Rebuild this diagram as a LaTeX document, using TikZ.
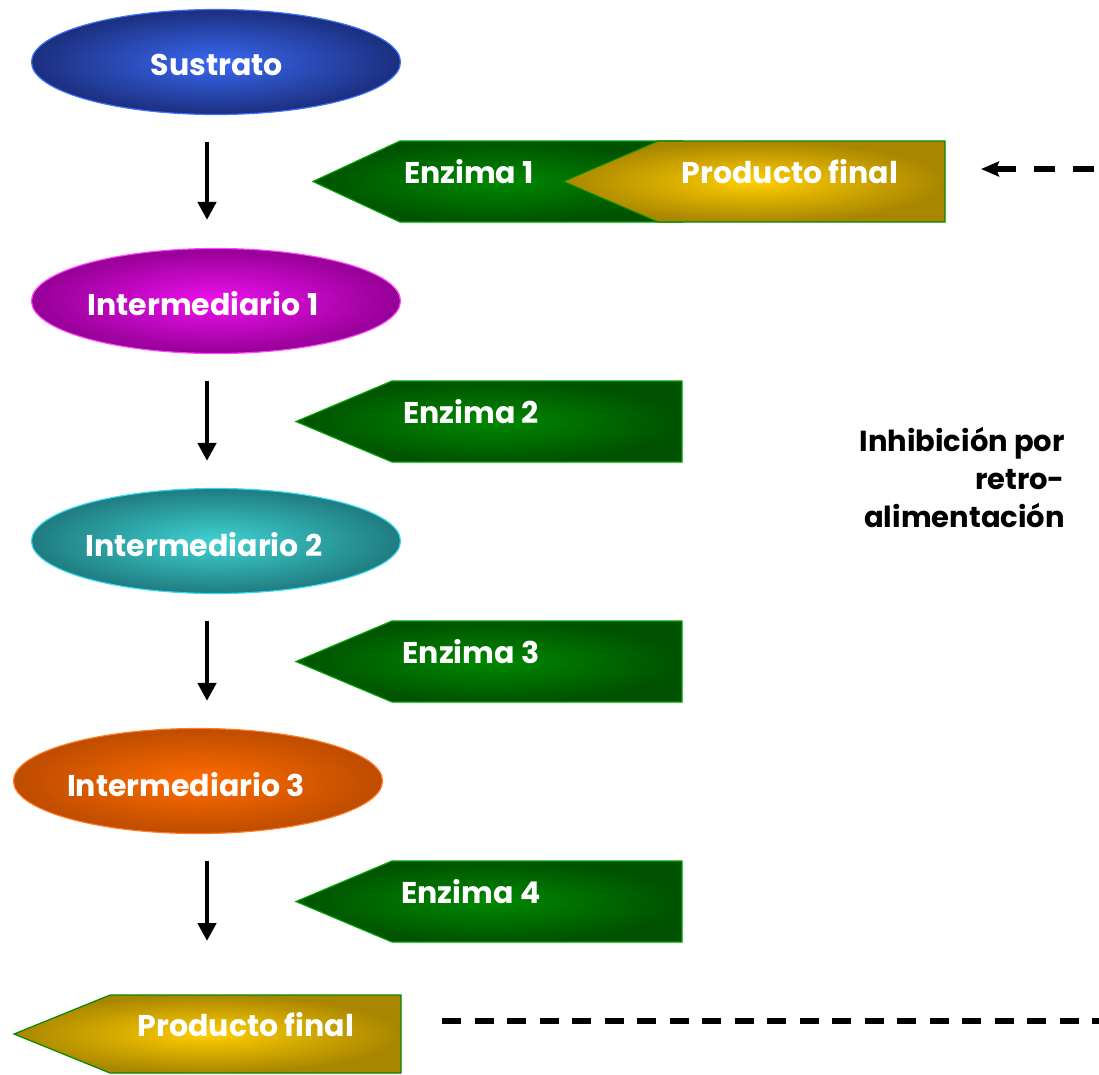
\documentclass[tikz,border=0pt]{standalone}
\usepackage{fontspec}
\setmainfont{Poppins}
\usetikzlibrary{shapes.geometric,arrows.meta}
\definecolor{blueIn}{HTML}{3A68F2}
\definecolor{blueOut}{HTML}{1B2F7E}
\definecolor{blueBd}{HTML}{4070FF}
\definecolor{magIn}{HTML}{EE10EE}
\definecolor{magOut}{HTML}{950095}
\definecolor{magBd}{HTML}{FF44FF}
\definecolor{tealIn}{HTML}{40D2D2}
\definecolor{tealOut}{HTML}{1F7C80}
\definecolor{tealBd}{HTML}{33D8EE}
\definecolor{oraIn}{HTML}{FF6C00}
\definecolor{oraOut}{HTML}{BE4C00}
\definecolor{oraBd}{HTML}{FF7A22}
\definecolor{grnIn}{HTML}{008800}
\definecolor{grnOut}{HTML}{005200}
\definecolor{grnBd}{HTML}{00A000}
\definecolor{yelIn}{HTML}{FFCE00}
\definecolor{yelOut}{HTML}{A98600}
\definecolor{yelBd}{HTML}{008A00}
\tikzset{
  ell/.style={ellipse, minimum width=369pt, minimum height=105pt, inner sep=0pt, line width=1.2pt},
  lbl/.style={text=white, font=\fontsize{30}{34}\selectfont\bfseries, inner sep=0pt},
  pgreen/.style={draw=grnBd, line width=1.2pt, inner color=grnIn, outer color=grnOut},
  pyellow/.style={draw=yelBd, line width=1.2pt, inner color=yelIn, outer color=yelOut},
  down/.style={line width=4.5pt, -{Triangle[length=18pt,width=18pt]}},
  fb/.style={line width=6pt, dash pattern=on 19pt off 13.5pt},
}
\begin{document}
\begin{tikzpicture}[x=1pt,y=-1pt]
\useasboundingbox (0,0) rectangle (1099,1074);
% ellipses
\node[ell, draw=blueBd, inner color=blueIn, outer color=blueOut] (s) at (216,62) {};
\node[ell, draw=magBd, inner color=magIn, outer color=magOut] (i1) at (216,301) {};
\node[ell, draw=tealBd, inner color=tealIn, outer color=tealOut] (i2) at (216,541) {};
\node[ell, draw=oraBd, inner color=oraIn, outer color=oraOut] (i3) at (198,781) {};
\node[lbl] (ts) at (217,65) {Sustrato};
\node[lbl] (ti1) at (203,304) {Intermediario 1};
\node[lbl] (ti2) at (204,545) {Intermediario 2};
\node[lbl] (ti3) at (186,785) {Intermediario 3};
% enzyme arrows
\path[pgreen] (682,141) -- (400,141) -- (313,181.5) -- (400,222) -- (682,222) -- cycle;
\path[pyellow] (945,141) -- (658,141) -- (563,181.5) -- (658,222) -- (945,222) -- cycle;
\coordinate (pf1e) at (945,169);
\path[pgreen] (682,381) -- (392,381) -- (296,421.5) -- (392,462) -- (682,462) -- cycle;
\path[pgreen] (682,621) -- (392,621) -- (296,661.5) -- (392,702) -- (682,702) -- cycle;
\path[pgreen] (682,861) -- (392,861) -- (296,901.5) -- (392,942) -- (682,942) -- cycle;
\path[pyellow] (401,995) -- (110,995) -- (14,1034) -- (110,1073) -- (401,1073) -- cycle;
\coordinate (pf2n) at (207,995);
\node[lbl] (te1) at (469,172) {Enzima 1};
\node[lbl] (tpf1) at (790,172) {Producto final};
\node[lbl] (te2) at (471,412) {Enzima 2};
\node[lbl] (te3) at (471,652) {Enzima 3};
\node[lbl] (te4) at (471,892) {Enzima 4};
\node[lbl] (tpf2) at (246,1025) {Producto final};
% vertical arrows
\coordinate (ax) at (207,0);
\draw[down, shorten <=27pt, shorten >=28pt] (s.south -| ax) -- (i1.north -| ax);
\draw[down, shorten <=27pt, shorten >=27pt] (i1.south -| ax) -- (i2.north -| ax);
\draw[down, shorten <=27pt, shorten >=27pt] (i2.south -| ax) -- (i3.north -| ax);
\draw[down, shorten <=27pt, shorten >=54pt] (i3.south -| ax) -- (pf2n);
% feedback
\coordinate (fbs) at (442,1021);
\coordinate (fbe) at (1099,1021);
\coordinate (fbt) at (1099,169);
\draw[fb] (fbs) -- (fbe);
\draw[line width=6pt, dash pattern=on 21pt off 18pt, {Stealth[length=18pt,width=15pt,inset=3pt]}-, shorten <=36pt] (pf1e) -- (fbt);
\node[align=right, anchor=east, font=\fontsize{29}{38}\selectfont\bfseries, inner sep=0pt] (inh) at (1065,478) {Inhibición por\\retro-\\alimentación};
\end{tikzpicture}
\end{document}
